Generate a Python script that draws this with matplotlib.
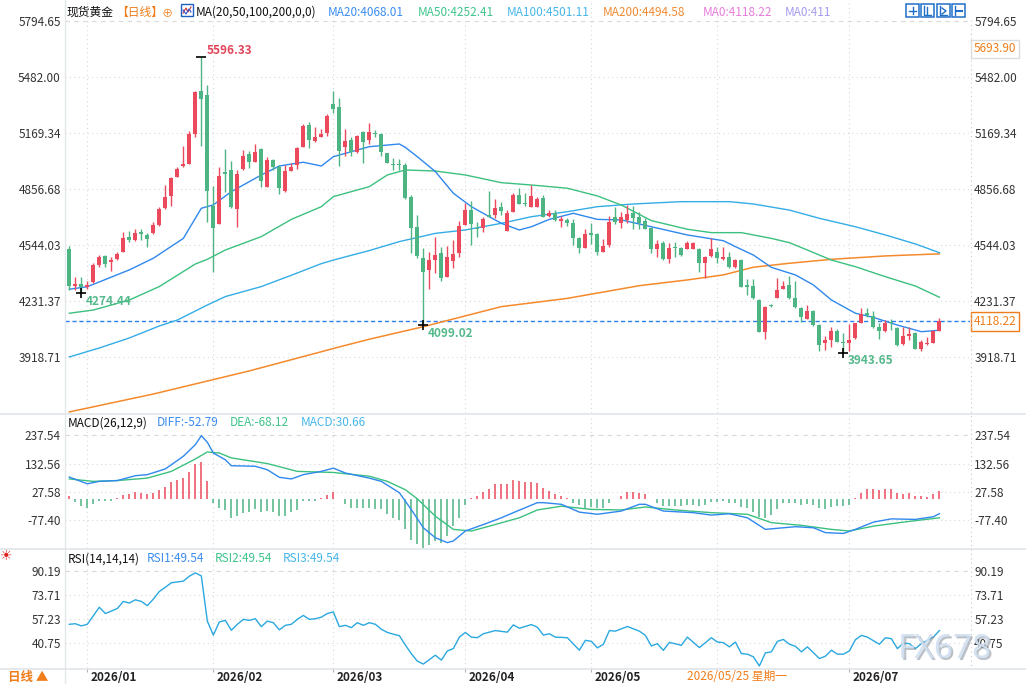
import numpy as np
import matplotlib.pyplot as plt
from matplotlib.lines import Line2D
from matplotlib.patches import Rectangle
from matplotlib.transforms import blended_transform_factory, ScaledTranslation

plt.rcParams['font.family'] = ['Noto Sans CJK SC', 'DejaVu Sans']

# daily candles, spot gold, late Dec 2025 .. mid Jul 2026 (one entry per session)
opens = [4522, 4315, 4326, 4312, 4339, 4434, 4483, 4447, 4468, 4507,
         4587, 4572, 4617, 4598, 4609, 4658, 4753, 4820, 4926, 4985,
         4998, 5166, 5404, 5382, 4762, 4663, 4952, 4963, 4747, 4970,
         5052, 5009, 5080, 4870, 5019, 4978, 4848, 4957, 4991, 5093,
         5212, 5127, 5149, 5171, 5333, 5315, 5093, 5130, 5065, 5177,
         5130, 5171, 5164, 5056, 4995, 4996, 4989, 4810, 4647, 4472,
         4405, 4460, 4501, 4367, 4457, 4501, 4656, 4740, 4641, 4637,
         4712, 4712, 4758, 4624, 4730, 4823, 4780, 4758, 4758, 4807,
         4706, 4725, 4680, 4684, 4665, 4585, 4529, 4609, 4606, 4507,
         4544, 4702, 4665, 4684, 4721, 4702, 4680, 4641, 4524, 4557,
         4466, 4535, 4525, 4524, 4522, 4522, 4445, 4483, 4507, 4468,
         4475, 4419, 4460, 4321, 4315, 4237, 4060, 4209, 4250, 4300,
         4321, 4246, 4194, 4129, 4177, 4097, 3995, 4014, 4064, 4004,
         3999, 4023, 4110, 4166, 4148, 4088, 4066, 4112, 4081, 3991,
         4038, 4055, 3963, 3991, 3999, 4066]
highs = [4539, 4367, 4367, 4345, 4446, 4488, 4488, 4475, 4503, 4617,
         4620, 4632, 4632, 4613, 4674, 4758, 4881, 4926, 4978, 5097,
         5181, 5404, 5596.33, 5439, 4874, 4978, 5082, 5013, 4963, 5075,
         5071, 5108, 5086, 5034, 5026, 4989, 4993, 5000, 5089, 5218,
         5233, 5201, 5192, 5274, 5404, 5365, 5192, 5145, 5160, 5183,
         5227, 5186, 5171, 5060, 5028, 5026, 5000, 4823, 4712, 4526,
         4503, 4589, 4535, 4539, 4572, 4680, 4780, 4790, 4674, 4702,
         4848, 4799, 4786, 4740, 4836, 4864, 4833, 4879, 4814, 4823,
         4740, 4740, 4706, 4693, 4687, 4591, 4632, 4665, 4613, 4576,
         4706, 4758, 4730, 4768, 4762, 4730, 4693, 4646, 4572, 4565,
         4553, 4562, 4535, 4566, 4563, 4525, 4483, 4581, 4535, 4535,
         4507, 4464, 4468, 4352, 4352, 4241, 4203, 4213, 4358, 4345,
         4371, 4345, 4200, 4209, 4181, 4103, 4036, 4088, 4073, 4051,
         4103, 4110, 4190, 4194, 4177, 4107, 4125, 4129, 4088, 4088,
         4088, 4060, 4014, 4032, 4070, 4138]
lows = [4293, 4293, 4274.44, 4297, 4334, 4419, 4423, 4401, 4460, 4503,
        4563, 4568, 4572, 4531, 4606, 4652, 4747, 4764, 4922, 4982,
        4998, 5149, 5097, 4673, 4395, 4663, 4838, 4753, 4647, 4963,
        4976, 5008, 4870, 4870, 4963, 4829, 4842, 4957, 4970, 5089,
        5084, 5121, 5145, 5154, 5279, 4987, 5043, 5041, 5056, 5004,
        5106, 5149, 5043, 5000, 4963, 4963, 4799, 4501, 4470, 4099.02,
        4300, 4386, 4345, 4367, 4414, 4475, 4656, 4544, 4591, 4618,
        4699, 4693, 4712, 4624, 4730, 4773, 4762, 4758, 4758, 4699,
        4702, 4678, 4647, 4650, 4544, 4501, 4526, 4550, 4488, 4507,
        4535, 4661, 4637, 4665, 4632, 4632, 4631, 4501, 4475, 4460,
        4445, 4479, 4483, 4520, 4520, 4395, 4358, 4479, 4442, 4460,
        4416, 4414, 4308, 4265, 4243, 4058, 4017, 4196, 4250, 4297,
        4243, 4192, 4116, 4129, 4092, 3954, 3958, 3976, 4001, 3943.65,
        3954, 4019, 4107, 4140, 4082, 4017, 4060, 4069, 3982, 3988,
        4014, 3962, 3954, 3988, 3995, 4066]
closes = [4317, 4325, 4308, 4319, 4434, 4477, 4440, 4462, 4494, 4583,
          4572, 4609, 4604, 4579, 4656, 4745, 4812, 4918, 4969, 4995,
          5164, 5398, 5361, 4848, 4641, 4929, 4942, 4758, 4939, 5041,
          5009, 5063, 4903, 5019, 4982, 4864, 4957, 4982, 5084, 5209,
          5128, 5147, 5164, 5266, 5305, 5071, 5125, 5065, 5153, 5121,
          5177, 5162, 5065, 5004, 4991, 4993, 4805, 4637, 4483, 4393,
          4460, 4488, 4358, 4479, 4494, 4652, 4740, 4661, 4632, 4689,
          4702, 4753, 4736, 4725, 4823, 4773, 4773, 4818, 4799, 4702,
          4725, 4684, 4687, 4669, 4585, 4529, 4606, 4602, 4507, 4539,
          4674, 4674, 4699, 4717, 4693, 4665, 4635, 4522, 4550, 4466,
          4525, 4529, 4488, 4557, 4557, 4442, 4479, 4522, 4470, 4479,
          4419, 4460, 4311, 4311, 4246, 4060, 4200, 4202, 4293, 4315,
          4246, 4196, 4144, 4177, 4097, 3986, 4014, 4064, 4004, 3995,
          4014, 4107, 4159, 4153, 4088, 4066, 4107, 4109, 3986, 4036,
          4047, 3963, 4001, 3999, 4064, 4118.22]

# moving averages, read every few sessions (session index, value)
ma20_idx = [0, 3, 10, 14, 19, 22, 24, 27, 32, 35, 37, 39, 42, 44, 50, 55, 56, 58, 61, 64,
            67, 70, 72, 75, 77, 80, 84, 88, 92, 97, 103, 109, 111, 114, 117, 121, 124, 127,
            131, 134, 138, 142, 145]
ma20_val = [4297, 4311, 4405, 4470, 4581, 4749, 4768, 4842, 4935, 4985, 4996, 5006, 4985,
            5037, 5093, 5108, 5089, 5037, 4954, 4833, 4758, 4702, 4665, 4628, 4646, 4687,
            4721, 4687, 4684, 4646, 4600, 4568, 4535, 4488, 4419, 4377, 4321, 4237, 4163,
            4140, 4097, 4060, 4068.01]
ma50_idx = [0, 4, 10, 15, 21, 23, 26, 32, 37, 42, 44, 50, 53, 56, 61, 66, 72, 77, 83, 88,
            92, 97, 103, 107, 112, 117, 120, 123, 127, 131, 136, 141, 145]
ma50_val = [4163, 4181, 4237, 4312, 4438, 4464, 4516, 4591, 4687, 4758, 4814, 4870, 4935,
            4963, 4957, 4935, 4892, 4879, 4861, 4818, 4767, 4680, 4632, 4613, 4613, 4581,
            4557, 4516, 4460, 4423, 4367, 4315, 4252.41]
ma100_idx = [0, 5, 10, 15, 18, 23, 26, 32, 37, 42, 44, 50, 55, 61, 66, 72, 77, 83, 88, 94,
             102, 110, 114, 120, 125, 131, 136, 141, 145]
ma100_val = [3919, 3969, 4025, 4092, 4125, 4209, 4256, 4312, 4375, 4440, 4460, 4513, 4563,
             4609, 4628, 4665, 4702, 4730, 4758, 4773, 4786, 4786, 4773, 4739, 4693, 4646,
             4600, 4550, 4501.11]
ma200_idx = [0, 14, 30, 45, 50, 59, 72, 83, 95, 103, 109, 114, 120, 127, 136, 145]
ma200_val = [3612, 3712, 3841, 3975, 4018, 4088, 4200, 4246, 4317, 4349, 4377, 4420, 4442,
             4464, 4483, 4494.58]

# MACD(26,12,9): histogram per session, DIFF / DEA read every few sessions
macd_hist = [14, -9, -23, -30, -17, -7, -5, -4, 4, 18,
             22, 27, 25, 21, 25, 36, 47, 63, 73, 80,
             100, 132, 137, 68, -14, -30, -38, -69, -63, -51,
             -45, -36, -48, -42, -46, -63, -61, -48, -38, -5,
             -4, -4, 7, 17, 28, 2, -16, -30, -30, -30,
             -30, -36, -36, -53, -68, -75, -110, -150, -165, -183,
             -170, -155, -160, -136, -99, -67, -22, 4, 14, 28,
             40, 56, 58, 58, 73, 69, 66, 66, 62, 43,
             32, 21, 14, 4, -15, -22, -30, -27, -33, -30,
             -15, 3, 14, 27, 27, 25, 21, 2, -12, -26,
             -26, -26, -25, -19, -21, -25, -21, -10, -10, -7,
             -15, -12, -28, -30, -47, -64, -68, -56, -37, -15,
             -12, -14, -20, -17, -19, -31, -37, -28, -26, -25,
             -19, 6, 25, 40, 37, 35, 37, 40, 23, 21,
             23, 11, 11, 10, 19, 30.66]
diff_idx = [0, 3, 5, 8, 11, 13, 16, 19, 21, 22, 23, 24, 26, 27, 31, 33, 35, 37, 39, 42, 44,
            46, 50, 52, 55, 57, 59, 61, 63, 64, 66, 69, 72, 74, 78, 79, 82, 85, 88, 92, 95,
            96, 99, 104, 107, 110, 113, 116, 118, 121, 124, 126, 129, 131, 134, 137, 141,
            144, 145]
diff_val = [83, 58, 67, 70, 88, 92, 113, 160, 203, 236, 212, 172, 147, 125, 123, 110, 82, 76,
            92, 104, 116, 98, 79, 67, 25, -38, -105, -142, -160, -154, -117, -93, -68, -49,
            -12, -12, -18, -47, -55, -43, -18, -18, -43, -49, -58, -53, -68, -111, -107,
            -101, -105, -123, -126, -111, -84, -72, -74, -64, -52.79]
dea_idx = [0, 4, 8, 13, 17, 21, 23, 25, 27, 33, 38, 44, 50, 53, 56, 58, 61, 64, 67, 70, 75,
           78, 82, 87, 92, 96, 101, 107, 113, 117, 122, 127, 130, 134, 139, 145]
dea_val = [76, 67, 70, 79, 104, 150, 176, 172, 154, 133, 104, 100, 86, 67, 36, 2, -62, -111,
           -117, -99, -68, -39, -25, -37, -39, -28, -39, -49, -55, -86, -96, -111, -117, -99,
           -84, -68.12]

# RSI(14) at its turning points
rsi_idx = [0, 1, 2, 3, 5, 6, 8, 9, 10, 11, 12, 13, 14, 15, 16, 17, 19, 20, 21, 22,
           23, 24, 25, 26, 27, 28, 29, 30, 31, 32, 33, 34, 35, 36, 37, 38, 39, 40, 41, 42,
           43, 44, 45, 46, 47, 48, 49, 50, 51, 52, 53, 54, 55, 56, 57, 58, 59, 61, 62, 63,
           64, 65, 66, 67, 68, 69, 71, 73, 74, 75, 77, 78, 79, 80, 81, 83, 85, 86, 87, 88,
           89, 90, 91, 93, 95, 96, 97, 98, 99, 100, 102, 103, 105, 107, 108, 109, 110, 111,
           112, 113, 114, 115, 116, 117, 118, 119, 120, 121, 122, 123, 125, 126, 127, 128,
           129, 130, 131, 132, 133, 135, 136, 137, 138, 139, 140, 141, 142, 144, 145]
rsi_val = [53.8, 54.2, 52.7, 53.8, 65.5, 61.2, 64.6, 69.5, 68.4, 70.6, 69.5, 66.6, 71.1,
           76.3, 79.2, 82.3, 83.4, 86.8, 89.1, 87.0, 56.0, 46.4, 55.4, 56.5, 49.7, 53.8,
           57.2, 56.5, 57.6, 52.2, 56.0, 54.9, 50.0, 53.1, 53.8, 57.2, 59.9, 57.2, 57.6,
           58.7, 61.2, 62.3, 52.2, 53.1, 51.5, 54.9, 53.1, 54.9, 53.8, 50.4, 48.2, 47.0,
           46.0, 39.6, 33.6, 28.5, 26.5, 32.6, 29.2, 35.5, 37.1, 45.0, 48.2, 45.0, 44.6,
           47.3, 49.5, 48.4, 53.4, 51.1, 53.6, 51.8, 46.4, 47.3, 45.0, 44.6, 36.0, 42.8,
           42.1, 37.6, 40.1, 49.5, 49.1, 52.3, 49.1, 46.2, 38.9, 40.5, 35.9, 41.4, 39.4,
           45.0, 37.8, 44.6, 41.6, 41.2, 38.3, 41.6, 33.7, 33.3, 31.5, 25.2, 34.2, 34.9,
           42.1, 43.4, 40.1, 38.7, 34.9, 38.3, 30.3, 31.9, 36.0, 33.3, 33.3, 35.5, 43.2,
           46.2, 45.0, 40.1, 44.6, 43.9, 37.1, 40.9, 40.5, 37.1, 40.5, 45.0, 49.54]

# first session of each month and its label (June is hidden under the cursor date)
month_idx = [3, 24, 44, 66, 87, 108, 130]
month_lbl = ['2026/01', '2026/02', '2026/03', '2026/04', '2026/05', '', '2026/07']

price_ticks = [5794.65, 5482.00, 5169.34, 4856.68, 4544.03, 4231.37, 3918.71]
macd_ticks = [237.54, 132.56, 27.58, -77.40]
rsi_ticks = [90.19, 73.71, 57.23, 40.75]

last_price = 4118.22
cursor_idx = 103

RED = '#eb4a5d'
GREEN = '#4db484'
BLUE = '#2f88ee'
MGREEN = '#3cc07f'
LBLUE = '#34ade6'
ORANGE = '#f58a2c'
TXT_ORANGE = '#f07d1a'

W, H = 1026, 684
fig = plt.figure(figsize=(10.26, 6.84), dpi=100)


def box(x0, y0, x1, y1):
    return [x0 / W, 1 - y1 / H, (x1 - x0) / W, (y1 - y0) / H]


def ftext(x, y, s, color='#222222', size=8.5, **kw):
    return fig.text(x / W, 1 - y / H, s, color=color, fontsize=size, va='center', ha='left', **kw)


def fline(xs, ys, **kw):
    fig.add_artist(Line2D([x / W for x in xs], [1 - y / H for y in ys], **kw))


ax = fig.add_axes(box(65, 2, 970, 413))
axm = fig.add_axes(box(65, 415, 970, 548), sharex=ax)
axr = fig.add_axes(box(65, 550, 970, 668), sharex=ax)

ax.set_xlim(-0.72, 150.1)
ax.set_ylim(3606.05, 5900.73)
axm.set_ylim(-180, 313)
axr.set_ylim(23.8, 104.8)


def style(a, ticks, fmt):
    a.set_yticks(ticks)
    a.set_yticklabels([fmt % t for t in ticks])
    a.tick_params(axis='y', length=0, labelleft=True, labelright=True,
                  labelsize=8.5, labelcolor='#333333', pad=3)
    for s in a.spines.values():
        s.set_visible(False)
    for k, t in enumerate(ticks):
        ls = (0, (4, 4)) if k == 0 else (0, (1, 3))
        a.axhline(t, color='#d9d9d9', lw=0.8, ls=ls, zorder=0)
    for m in month_idx:
        a.axvline(m, color='#d9d9d9', lw=0.8, ls=(0, (1, 3)), zorder=0)


style(ax, price_ticks, '%.2f')
style(axm, macd_ticks, '%.2f')
style(axr, rsi_ticks, '%.2f')

# candles
idx = np.arange(len(closes))
o, h, l, c = (np.array(v, dtype=float) for v in (opens, highs, lows, closes))
col = np.where(c >= o, RED, GREEN)
ax.vlines(idx, l, h, colors=col, lw=1, zorder=3)
ax.bar(idx, np.maximum(np.abs(c - o), 3), bottom=np.minimum(o, c), width=0.66,
       color=col, linewidth=0, zorder=4)

ax.plot(ma200_idx, ma200_val, color=ORANGE, lw=1.1, zorder=2)
ax.plot(ma100_idx, ma100_val, color=LBLUE, lw=1, zorder=2)
ax.plot(ma50_idx, ma50_val, color=MGREEN, lw=1, zorder=2)
ax.plot(ma20_idx, ma20_val, color=BLUE, lw=1, zorder=2)
ax.axhline(last_price, color='#2b7de9', lw=1, ls=(0, (3, 2)), zorder=1)

# high / low marks
hi = int(np.argmax(h))
ax.plot(hi, h[hi], marker='_', ms=7, mew=1.2, color='black', zorder=5)
ax.annotate('%.2f' % h[hi], (hi, h[hi]), xytext=(4, 4), textcoords='offset points',
            color='#e2465a', fontsize=8.5, fontweight='bold', va='center', ha='left')
for k in (2, 59, 129):
    ax.plot(k, l[k], marker='+', ms=7, mew=1.2, color='black', zorder=5)
    ax.annotate('%.2f' % l[k], (k, l[k]), xytext=(3, -6), textcoords='offset points',
                color='#55b98c', fontsize=8.5, fontweight='bold', va='center', ha='left')

# MACD panel
hist = np.array(macd_hist)
axm.vlines(idx, 0, hist, colors=np.where(hist >= 0, RED, GREEN), lw=1.1)
axm.plot(dea_idx, dea_val, color=MGREEN, lw=1)
axm.plot(diff_idx, diff_val, color=BLUE, lw=1)

# RSI panel
axr.plot(rsi_idx, rsi_val, color='#2aa8e0', lw=1)

for a in (ax, axm):
    a.tick_params(axis='x', bottom=False, labelbottom=False)
axr.set_xticks(month_idx)
axr.set_xticklabels(month_lbl)
axr.tick_params(axis='x', length=3, color='#b0b0b0', labelsize=8.5, pad=-1)
off = ScaledTranslation(2 / 72, 0, fig.dpi_scale_trans)
for lbl in axr.get_xticklabels():
    lbl.set_ha('left')
    lbl.set_fontweight('bold')
    lbl.set_color('#222222')
    lbl.set_transform(lbl.get_transform() + off)

trans = blended_transform_factory(axr.transData, fig.transFigure)
axr.text(cursor_idx, 1 - 677 / H, '2026/05/25 星期一', transform=trans, color=TXT_ORANGE,
         fontsize=8.5, va='center', ha='left',
         bbox=dict(boxstyle='square,pad=0.25', fc='white', ec='none'))

# right side price boxes
tr = blended_transform_factory(ax.transAxes, ax.transData)
ax.text(1.004, last_price, '%.2f' % last_price, transform=tr, color=TXT_ORANGE, fontsize=8.5,
        va='center', ha='left',
        bbox=dict(boxstyle='square,pad=0.25', fc='white', ec=TXT_ORANGE, lw=1))
ftext(974, 49, '5693.90', color=TXT_ORANGE,
      bbox=dict(boxstyle='square,pad=0.25', fc='white', ec='#dcdcdc', lw=1))

# frame lines
for y in (413.5, 548.5, 668.5):
    fline([0, W], [y, y], color='#e3e6ea', lw=1.3)
fline([65, 65], [0, H], color='#e3e6ea', lw=1)
fline([971, 971], [20, 668], color='#c8c8c8', lw=0.8, ls=(0, (1, 3)))

# header legends
ftext(67, 12, '现货黄金', color='#111111')
ftext(116, 12, '【日线】', color=TXT_ORANGE)
ftext(162, 13, '⊕', color=TXT_ORANGE, size=8)
fig.add_artist(Rectangle((181 / W, 1 - 16 / H), 12 / W, 12 / H, transform=fig.transFigure,
                         fc='white', ec='#1f5fbf', lw=1))
fline([183, 186, 188, 191], [13, 8, 12, 7], color='#d03030', lw=0.8)
fline([183, 186, 189, 191], [10, 14, 9, 12], color='#3050d0', lw=0.8)
ftext(196, 12, 'MA(20,50,100,200,0,0)', color='#111111')
ftext(328, 12, 'MA20:4068.01', color='#3b8cf0')
ftext(418, 12, 'MA50:4252.41', color='#3fc48b')
ftext(507, 12, 'MA100:4501.11', color='#45b6ea')
ftext(603, 12, 'MA200:4494.58', color='#f28a33')
ftext(703, 12, 'MA0:4118.22', color='#e87cdc')
ftext(785, 12, 'MA0:411', color='#a49cf0')

for x0 in (906, 921, 937, 952):
    fig.add_artist(Rectangle((x0 / W, 1 - 17 / H), 13 / W, 13 / H, transform=fig.transFigure,
                             fc='white', ec='#1f6fc7', lw=1.1))
fline([909, 916], [10.5, 10.5], color='#1f6fc7', lw=1)
fline([912.5, 912.5], [7, 14], color='#1f6fc7', lw=1)
fline([924, 924, 931], [6, 15, 15], color='#1f6fc7', lw=1)
fline([927, 927], [7, 14], color='#1f6fc7', lw=1)
fline([940, 940, 947], [6, 15, 15], color='#1f6fc7', lw=1)
fline([942, 946, 942], [8, 11, 14], color='#1f6fc7', lw=1)
fline([955, 955], [6, 15], color='#1f6fc7', lw=1)
fline([957, 962], [10.5, 10.5], color='#1f6fc7', lw=1.5)

ftext(68, 423, 'MACD(26,12,9)', color='#111111')
ftext(157, 423, 'DIFF:-52.79', color='#3b8cf0')
ftext(230, 423, 'DEA:-68.12', color='#3fc48b')
ftext(301, 423, 'MACD:30.66', color='#45b6ea')

ftext(68, 559, 'RSI(14,14,14)', color='#111111')
ftext(147, 559, 'RSI1:49.54', color='#3b8cf0')
ftext(215, 559, 'RSI2:49.54', color='#3fc48b')
ftext(283, 559, 'RSI3:49.54', color='#45b6ea')

ftext(0, 556, '☀', color='#e02020', size=10, family=['DejaVu Sans'])
ftext(8, 678, '日线 ▲', color=TXT_ORANGE, size=9, fontweight='bold')

# watermark
ftext(899.5, 651.5, 'FX678', color='#8e98a3', size=24, family=['Noto Sans', 'DejaVu Sans'], alpha=0.6)
ftext(898, 650, 'FX678', color='#d0dff0', size=24, family=['Noto Sans', 'DejaVu Sans'], alpha=0.9)

fig.savefig('out.png', dpi=100)
